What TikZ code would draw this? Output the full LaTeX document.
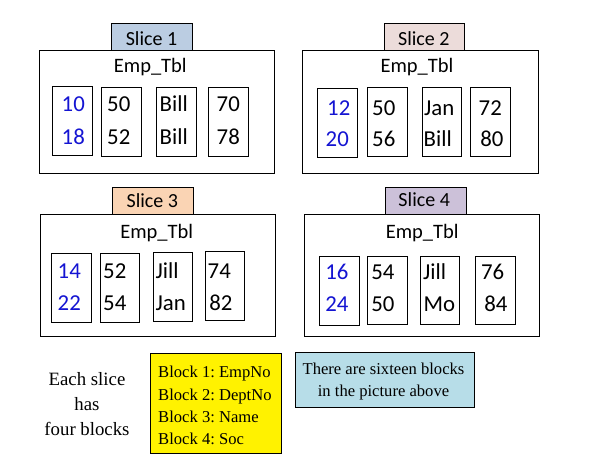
\documentclass[tikz,border=0pt]{standalone}
\usepackage{fontspec}
\setmainfont{Carlito}
\newfontfamily\tnr{Liberation Serif}
\definecolor{sa}{RGB}{187,205,226}
\definecolor{sb}{RGB}{236,220,218}
\definecolor{sc}{RGB}{250,212,180}
\definecolor{sd}{RGB}{204,193,217}
\definecolor{note}{RGB}{183,221,232}
\definecolor{keyblue}{RGB}{20,20,210}
\frenchspacing
\begin{document}
\begin{tikzpicture}[x=1pt,y=-1pt,
  box/.style={draw, line width=0.8pt, inner sep=0pt},
  blk/.style={box, minimum width=40pt, minimum height=69pt},
  val/.style={anchor=base west, inner sep=0pt, font=\fontsize{22.8}{27}\selectfont},
  key/.style={val, text=keyblue},
  ttl/.style={anchor=base, inner sep=0pt, font=\fontsize{20}{24}\selectfont},
  tbl/.style={ttl, font=\fontsize{20.5}{24}\selectfont},
  tabbox/.style={box, minimum width=81pt, minimum height=27pt},
  outer/.style={box, minimum width=235pt, minimum height=123pt},
  note/.style={inner sep=0pt, font=\tnr\fontsize{16.6}{22.3}\selectfont}
]
\useasboundingbox (0,0) rectangle (593,464);

% ---------- Slice 1
\node[tabbox, fill=sa] (t1) at (151.5,36.5) {};
\node[outer] (o1) at (156.5,111.5) {};
\node[ttl] (l1) at (151.5,45) {Slice 1};
\node[tbl] (e1) at (150.3,72.7) {Emp\_Tbl};
\node[blk] (a1) at (72,120.5) {};
\node[blk] (a2) at (121,121.5) {};
\node[blk] (a3) at (176,121.5) {};
\node[blk] (a4) at (228,121.5) {};
\node[key] (a1x) at (61.5,111.7) {10};
\node[key] (a1y) at (61.5,144.3) {18};
\node[val] (a2x) at (107,111.7) {50};
\node[val] (a2y) at (107,144.3) {52};
\node[val] (a3x) at (159.5,111.7) {Bill};
\node[val] (a3y) at (159.5,144.3) {Bill};
\node[val] (a4x) at (216.5,111.7) {70};
\node[val] (a4y) at (216.5,144.3) {78};

% ---------- Slice 2
\node[tabbox, fill=sb, minimum width=80pt] (t2) at (424,36.5) {};
\node[outer, minimum width=236pt] (o2) at (420,111.5) {};
\node[ttl] (l2) at (423.8,45) {Slice 2};
\node[tbl] (e2) at (417,72.7) {Emp\_Tbl};
\node[blk] (b1) at (337,122.5) {};
\node[blk] (b2) at (387,121.5) {};
\node[blk, minimum width=39pt] (b3) at (441.5,121.5) {};
\node[blk] (b4) at (490,121.5) {};
\node[key] (b1x) at (327,115) {12};
\node[key] (b1y) at (325.5,146.5) {20};
\node[val] (b2x) at (372,115) {50};
\node[val] (b2y) at (372,146.5) {56};
\node[val] (b3x) at (424,115) {Jan};
\node[val] (b3y) at (423.5,146.5) {Bill};
\node[val] (b4x) at (478.5,115) {72};
\node[val] (b4y) at (480.2,146.5) {80};

% ---------- Slice 3
\node[tabbox, fill=sc] (t3) at (152.5,200.5) {};
\node[outer, minimum height=122pt] (o3) at (157.5,275) {};
\node[ttl] (l3) at (152.3,207.3) {Slice 3};
\node[tbl] (e3) at (156.7,238.3) {Emp\_Tbl};
\node[blk] (c1) at (71,287.5) {};
\node[blk, minimum width=39pt] (c2) at (119.5,287.5) {};
\node[blk, minimum width=39pt] (c3) at (172.5,286.5) {};
\node[blk, minimum width=39pt] (c4) at (224.5,285.5) {};
\node[key] (c1x) at (57.5,278.5) {14};
\node[key] (c1y) at (57.5,310) {22};
\node[val] (c2x) at (103,278.5) {52};
\node[val] (c2y) at (103,310) {54};
\node[val] (c3x) at (155.5,278.5) {Jill};
\node[val] (c3y) at (155.5,310) {Jan};
\node[val] (c4x) at (207.5,278.5) {74};
\node[val] (c4y) at (209.2,310) {82};

% ---------- Slice 4
\node[tabbox, fill=sd] (t4) at (425.5,200.5) {};
\node[outer, minimum height=122pt] (o4) at (421.5,275) {};
\node[ttl] (l4) at (424.2,206.5) {Slice 4};
\node[tbl] (e4) at (422.2,238.3) {Emp\_Tbl};
\node[blk] (d1) at (339,290.5) {};
\node[blk, minimum height=68pt] (d2) at (387,290) {};
\node[blk, minimum width=39pt, minimum height=68pt] (d3) at (439.5,290) {};
\node[blk, minimum height=68pt] (d4) at (495,290) {};
\node[key] (d1x) at (325.2,279.5) {16};
\node[key] (d1y) at (325.2,311) {24};
\node[val] (d2x) at (371.2,279.5) {54};
\node[val] (d2y) at (371.2,311) {50};
\node[val] (d3x) at (423,279.5) {Jill};
\node[val] (d3y) at (423.5,311) {Mo};
\node[val] (d4x) at (480.8,279.5) {76};
\node[val] (d4y) at (484.2,311) {84};

% ---------- bottom notes
\node[inner sep=0pt, align=center, font=\tnr\fontsize{18.8}{25}\selectfont] (each) at (87,404) {Each slice\\has\\four blocks};
\node[box, fill=yellow, minimum width=131pt, minimum height=100pt] (legend) at (215.5,403) {};
\node[note, align=left, anchor=west] (legendtext) at (158,405.5)
      {Block 1: EmpNo\\Block 2: DeptNo\\Block 3: Name\\Block 4: Soc};
\node[box, fill=note, minimum width=179pt, minimum height=55pt] (count) at (384.5,379.5) {};
\node[note, align=center] (counttext) at (383.5,381.5)
      {There are sixteen blocks\\in the picture above};
\end{tikzpicture}
\end{document}
